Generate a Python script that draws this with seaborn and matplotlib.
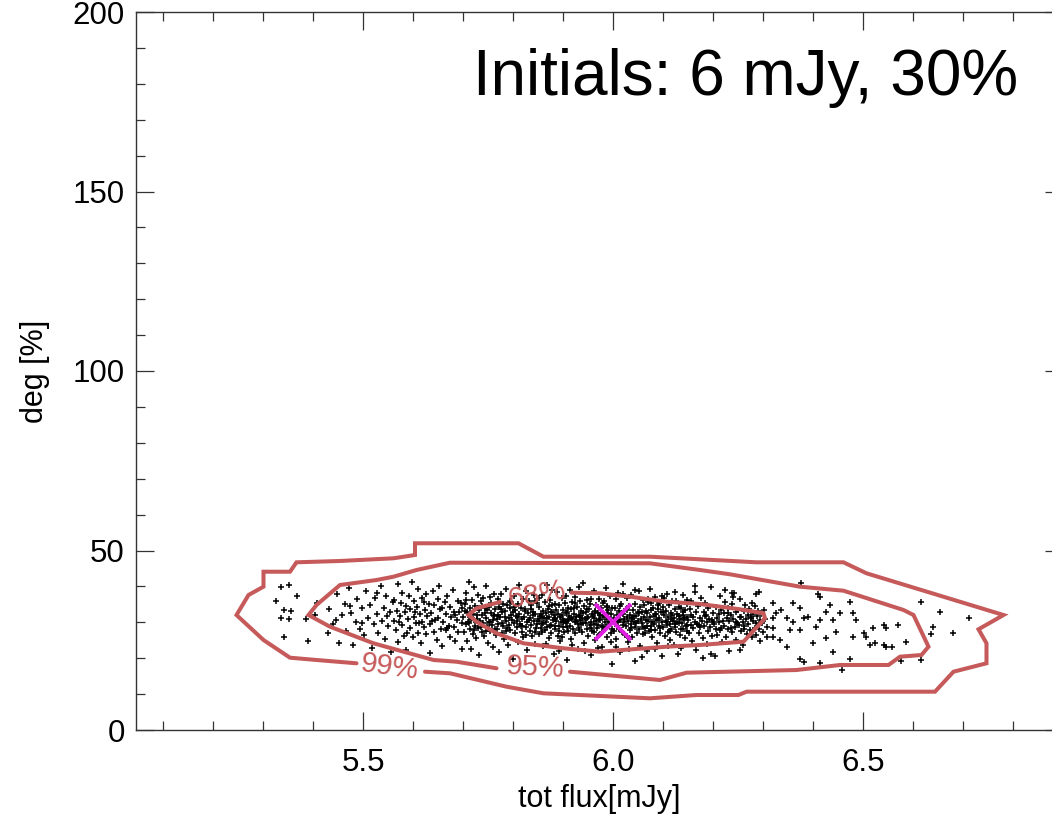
import matplotlib
matplotlib.use("Agg")
import matplotlib.pyplot as plt
import seaborn as sns
from matplotlib.ticker import MultipleLocator

# ---------------- data ----------------
pts_far_left = [(5.337,39.9),(5.353,40.4),(5.369,37.3),(5.325,36.0),(5.341,33.4),(5.356,33.2),(5.335,31.1),
    (5.351,30.8),(5.341,25.8),(5.389,24.8),(5.387,30.8),(5.409,35.5),(5.429,26.9),(5.404,32.0)]

pts_left = [(5.432,33.6),(5.441,29.4),(5.447,37.8),(5.452,24.3),(5.458,31.9),(5.463,35.2),(5.466,27.5),(5.471,39.6),
    (5.476,32.7),(5.481,23.6),(5.485,30.1),(5.489,36.4),(5.493,28.2),(5.497,33.9),(5.502,26.4),(5.506,38.7),(5.509,31.2),
    (5.513,34.8),(5.517,22.9),(5.521,29.6),(5.524,36.9),(5.528,32.4),(5.531,27.1),(5.535,40.2),(5.538,30.5),(5.541,34.1),
    (5.544,25.3),(5.547,37.4),(5.550,28.9),(5.553,32.9),(5.556,21.8),(5.559,35.7),(5.445,30.6),(5.474,34.5),(5.499,29.9),
    (5.527,38.2),(5.548,31.7)]

pts_mid_left = [(5.561,30.4),(5.563,36.2),(5.565,27.8),(5.567,33.1),(5.569,40.8),(5.571,24.6),(5.573,31.7),(5.575,35.4),
    (5.577,29.2),(5.579,38.1),(5.581,26.3),(5.583,32.8),(5.585,34.6),(5.587,22.4),(5.589,30.9),(5.591,37.2),(5.593,28.5),
    (5.595,33.7),(5.597,41.3),(5.599,25.8),(5.601,31.4),(5.603,35.9),(5.605,29.7),(5.607,34.2),(5.609,27.1),(5.611,39.4),
    (5.613,32.2),(5.615,24.1),(5.617,30.2),(5.619,36.7),(5.621,28.8),(5.623,33.4),(5.625,37.9),(5.627,26.7),(5.629,31.8),
    (5.631,35.1),(5.633,21.5),(5.635,29.4),(5.637,32.6),(5.639,38.6),(5.641,27.4),(5.643,34.9),(5.645,30.7),(5.647,25.2),
    (5.649,36.4),(5.651,31.1),(5.653,40.1),(5.655,28.1),(5.657,33.9),(5.659,23.4),(5.661,30.0),(5.663,35.6),(5.665,27.9),
    (5.667,32.4),(5.669,37.3),(5.671,29.1),(5.673,34.4),(5.675,26.0),(5.677,31.5),(5.679,39.0),(5.681,28.6),(5.683,33.0),
    (5.685,24.8),(5.687,30.6),(5.689,36.0),(5.691,27.3),(5.693,32.9),(5.695,35.3),(5.697,29.8),(5.699,22.7),(5.572,30.1),
    (5.588,27.0),(5.604,32.9),(5.622,35.7),(5.638,30.3),(5.654,33.6),(5.668,28.3),(5.684,31.9),(5.698,34.0),(5.612,29.9)]

pts_core_left = [(5.701,31.6),(5.702,27.2),(5.704,35.1),(5.705,29.4),(5.706,38.3),(5.708,24.9),(5.709,32.8),(5.710,30.2),
    (5.712,41.1),(5.713,28.0),(5.714,33.9),(5.716,22.6),(5.717,31.0),(5.718,36.2),(5.720,26.8),(5.721,30.7),(5.722,39.7),
    (5.724,29.0),(5.725,34.5),(5.726,25.7),(5.728,32.1),(5.729,37.6),(5.730,28.5),(5.732,33.3),(5.733,20.9),(5.734,30.5),
    (5.736,35.8),(5.737,27.4),(5.738,31.9),(5.740,36.9),(5.741,29.7),(5.742,26.2),(5.744,34.0),(5.745,31.3),(5.746,40.2),
    (5.748,28.9),(5.749,33.5),(5.750,24.3),(5.752,30.0),(5.753,37.1),(5.754,27.7),(5.756,32.5),(5.757,35.4),(5.758,29.3),
    (5.760,23.2),(5.761,31.7),(5.762,38.0),(5.764,28.2),(5.765,33.8),(5.766,26.5),(5.768,30.8),(5.769,36.6),(5.770,29.6),
    (5.772,34.3),(5.773,21.7),(5.774,31.4),(5.776,37.8),(5.777,27.0),(5.778,32.9),(5.780,35.0),(5.781,29.1),(5.782,25.4),
    (5.784,33.2),(5.785,30.3),(5.786,39.2),(5.788,28.4),(5.789,34.7),(5.790,23.8),(5.792,31.1),(5.793,36.0),(5.794,27.9),
    (5.796,32.0),(5.797,35.6),(5.798,30.6),(5.800,19.8),(5.801,29.8),(5.802,37.3),(5.804,26.9),(5.805,33.4),(5.806,31.8),
    (5.808,28.6),(5.809,35.2),(5.810,24.6),(5.812,32.3),(5.813,40.5),(5.814,29.5),(5.816,34.1),(5.817,27.3),(5.818,30.9),
    (5.820,36.4),(5.821,25.9),(5.822,31.5),(5.824,33.7),(5.825,28.8),(5.826,38.6),(5.828,30.1),(5.829,22.4),(5.830,32.6),
    (5.832,35.9),(5.833,27.6),(5.834,31.2),(5.836,34.9),(5.837,29.2),(5.838,26.1),(5.840,33.0),(5.841,37.5),(5.842,30.4),
    (5.844,24.0),(5.845,32.2),(5.846,28.3),(5.848,35.5),(5.849,31.0),(5.703,33.2),(5.711,29.8),(5.719,32.4),(5.727,30.9),
    (5.735,28.7),(5.743,32.6),(5.751,34.2),(5.759,30.6),(5.767,28.1),(5.775,33.6),(5.783,31.5),(5.791,29.3),(5.799,32.8),
    (5.807,30.3),(5.815,28.9),(5.823,33.1),(5.831,30.7),(5.839,31.9),(5.847,29.6),(5.707,36.1),(5.723,27.8),(5.739,34.6),
    (5.755,30.0),(5.771,32.1),(5.787,27.5),(5.803,34.4),(5.819,29.0),(5.835,33.8),(5.843,27.2),(5.715,31.4),(5.731,34.0),
    (5.747,27.6),(5.763,31.9),(5.779,29.9),(5.795,33.9),(5.811,31.6),(5.827,26.6),(5.843,35.8)]

pts_core_mid = [(5.851,30.3),(5.852,26.7),(5.853,34.2),(5.854,31.8),(5.856,28.4),(5.857,37.7),(5.858,29.6),(5.859,33.1),
    (5.860,23.5),(5.862,31.2),(5.863,35.6),(5.864,27.9),(5.865,32.5),(5.866,30.0),(5.868,40.3),(5.869,28.8),(5.870,33.8),
    (5.871,25.6),(5.872,31.6),(5.874,36.3),(5.875,29.3),(5.876,32.9),(5.877,27.1),(5.878,34.7),(5.880,30.7),(5.881,21.3),
    (5.882,31.9),(5.883,35.1),(5.884,28.2),(5.886,33.4),(5.887,30.5),(5.888,38.4),(5.889,26.3),(5.890,32.2),(5.892,29.0),
    (5.893,34.9),(5.894,31.4),(5.895,24.7),(5.896,30.1),(5.898,36.8),(5.899,28.6),(5.900,33.3),(5.901,31.0),(5.902,27.4),
    (5.904,35.3),(5.905,29.8),(5.906,32.7),(5.907,19.6),(5.908,30.4),(5.910,34.0),(5.911,27.7),(5.912,31.7),(5.913,39.1),
    (5.914,29.1),(5.916,33.6),(5.917,25.3),(5.918,30.9),(5.919,35.7),(5.920,28.0),(5.922,32.3),(5.923,30.2),(5.924,37.0),
    (5.925,26.9),(5.926,31.5),(5.928,34.4),(5.929,29.5),(5.930,22.6),(5.931,32.0),(5.932,28.5),(5.934,35.9),(5.935,30.6),
    (5.936,33.2),(5.937,27.2),(5.938,31.3),(5.940,41.0),(5.941,29.7),(5.942,34.6),(5.943,24.2),(5.944,30.8),(5.946,32.8),
    (5.947,28.1),(5.948,36.1),(5.949,31.1),(5.950,26.1),(5.952,33.7),(5.953,29.2),(5.954,35.0),(5.955,30.0),(5.956,20.8),
    (5.958,32.4),(5.959,27.6),(5.960,31.8),(5.961,38.7),(5.962,29.4),(5.964,33.0),(5.965,25.0),(5.966,30.3),(5.967,34.8),
    (5.968,28.3),(5.970,32.6),(5.971,31.0),(5.972,36.5),(5.973,26.5),(5.974,30.7),(5.976,33.9),(5.977,29.0),(5.978,23.0),
    (5.979,31.6),(5.980,35.4),(5.982,27.8),(5.983,32.1),(5.984,30.2),(5.985,39.6),(5.986,28.7),(5.988,34.3),(5.989,25.8),
    (5.990,31.4),(5.991,33.5),(5.992,29.6),(5.994,37.2),(5.995,27.0),(5.996,32.2),(5.997,30.5),(5.998,18.4),(5.999,34.1),
    (5.855,32.4),(5.861,29.7),(5.867,31.3),(5.873,28.9),(5.879,33.0),(5.885,30.8),(5.891,27.5),(5.897,32.0),(5.903,30.3),
    (5.909,28.6),(5.915,31.2),(5.921,33.9),(5.927,30.4),(5.933,27.9),(5.939,32.5),(5.945,29.9),(5.951,31.5),(5.957,28.4),
    (5.963,33.2),(5.969,29.3),(5.975,31.9),(5.981,28.8),(5.987,32.7),(5.993,30.1),(5.999,28.2),(5.853,36.9),(5.866,23.9),
    (5.879,38.9),(5.892,21.9),(5.905,37.4),(5.918,23.6),(5.931,39.8),(5.944,22.1),(5.957,36.6),(5.970,22.9),(5.983,36.0),
    (5.996,24.4),(5.858,27.3),(5.871,34.5),(5.884,31.1),(5.897,26.0),(5.910,30.6),(5.923,35.3),(5.936,29.4),(5.949,33.6),
    (5.962,31.2),(5.975,26.8),(5.988,30.9),(5.857,31.5),(5.883,29.1),(5.909,32.9),(5.935,31.7),(5.961,27.3),(5.987,34.6),
    (5.899,30.2)]

pts_core_right = [(6.001,31.3),(6.002,27.6),(6.003,34.0),(6.004,29.6),(6.006,36.4),(6.007,25.4),(6.008,31.9),(6.009,30.1),
    (6.010,38.2),(6.012,28.3),(6.013,33.1),(6.014,21.8),(6.015,30.6),(6.016,35.2),(6.018,27.3),(6.019,32.4),(6.020,29.2),
    (6.021,40.7),(6.022,30.8),(6.024,26.4),(6.025,33.7),(6.026,28.9),(6.027,31.5),(6.028,36.9),(6.030,24.5),(6.031,30.3),
    (6.032,34.6),(6.033,27.9),(6.034,32.0),(6.036,29.4),(6.037,37.5),(6.038,31.1),(6.039,26.0),(6.040,33.4),(6.042,30.0),
    (6.043,19.2),(6.044,28.7),(6.045,35.0),(6.046,31.7),(6.048,27.1),(6.049,32.8),(6.050,30.4),(6.051,38.8),(6.052,28.0),
    (6.054,34.3),(6.055,23.3),(6.056,31.0),(6.057,33.0),(6.058,29.8),(6.060,36.2),(6.061,26.7),(6.062,31.6),(6.063,34.8),
    (6.064,28.4),(6.066,30.7),(6.067,22.0),(6.068,32.5),(6.069,29.0),(6.070,35.6),(6.072,27.5),(6.073,31.4),(6.074,39.4),
    (6.075,28.9),(6.076,33.5),(6.078,25.9),(6.079,30.2),(6.080,34.1),(6.081,29.5),(6.082,31.8),(6.084,37.1),(6.085,27.8),
    (6.086,32.2),(6.087,30.6),(6.088,24.1),(6.090,33.8),(6.091,29.1),(6.092,35.4),(6.093,31.2),(6.094,27.0),(6.096,32.9),
    (6.097,20.5),(6.098,30.0),(6.099,34.4),(6.100,28.6),(6.102,31.9),(6.103,36.7),(6.104,26.2),(6.105,30.5),(6.106,33.2),
    (6.108,29.3),(6.109,38.0),(6.110,27.4),(6.111,31.5),(6.112,34.9),(6.114,25.2),(6.115,30.9),(6.116,32.6),(6.117,28.1),
    (6.118,35.8),(6.120,30.4),(6.121,23.8),(6.122,31.3),(6.123,33.6),(6.124,28.8),(6.126,36.0),(6.127,27.2),(6.128,30.1),
    (6.129,32.3),(6.130,21.1),(6.132,29.7),(6.133,34.2),(6.134,31.0),(6.135,26.6),(6.136,33.9),(6.138,29.9),(6.139,37.7),
    (6.140,28.2),(6.141,32.1),(6.142,30.8),(6.144,25.5),(6.145,33.3),(6.146,29.0),(6.147,35.1),(6.148,31.6),(6.149,27.7),
    (6.005,30.5),(6.011,28.1),(6.017,32.7),(6.023,30.0),(6.029,33.3),(6.035,28.5),(6.041,31.8),(6.047,29.9),(6.053,32.6),
    (6.059,28.8),(6.065,33.1),(6.071,30.3),(6.077,27.9),(6.083,32.4),(6.089,30.7),(6.095,28.4),(6.101,32.8),(6.107,30.2),
    (6.113,27.6),(6.119,32.0),(6.125,29.5),(6.131,31.7),(6.137,28.0),(6.143,31.3),(6.149,29.2),(6.006,23.1),(6.019,37.8),
    (6.032,22.7),(6.045,39.0),(6.058,20.3),(6.071,36.5),(6.084,22.5),(6.097,37.4),(6.110,23.5),(6.123,38.4),(6.136,22.8),
    (6.149,36.3),(6.014,34.5),(6.039,30.9),(6.064,26.9),(6.089,34.7),(6.114,29.6),(6.139,33.0),(6.027,26.1),(6.077,35.5)]

pts_right = [(6.151,30.6),(6.152,26.9),(6.154,33.7),(6.155,29.2),(6.157,36.0),(6.158,24.8),(6.160,31.5),(6.161,28.3),
    (6.163,38.5),(6.164,30.0),(6.166,32.9),(6.167,22.3),(6.169,29.6),(6.170,34.5),(6.172,27.0),(6.173,31.2),(6.175,28.6),
    (6.176,36.8),(6.178,30.4),(6.179,25.7),(6.181,33.0),(6.182,29.1),(6.184,31.8),(6.185,35.3),(6.187,23.9),(6.188,30.2),
    (6.190,33.9),(6.191,27.6),(6.193,31.0),(6.194,28.8),(6.196,39.7),(6.197,30.7),(6.199,26.3),(6.200,32.5),(6.202,29.4),
    (6.203,20.6),(6.205,28.0),(6.206,34.2),(6.208,31.3),(6.209,26.6),(6.211,32.2),(6.212,30.0),(6.214,37.2),(6.215,27.8),
    (6.217,33.4),(6.218,24.4),(6.220,30.5),(6.221,32.7),(6.223,29.0),(6.224,35.7),(6.226,26.0),(6.227,31.1),(6.229,34.0),
    (6.230,28.2),(6.232,30.3),(6.233,21.9),(6.235,31.9),(6.236,28.5),(6.238,35.0),(6.239,27.3),(6.241,30.8),(6.242,38.1),
    (6.244,28.7),(6.245,32.8),(6.247,25.1),(6.248,29.8),(6.250,33.5),(6.251,29.3),(6.253,31.4),(6.254,36.4),(6.256,27.5),
    (6.257,31.6),(6.259,30.1),(6.260,23.7),(6.262,33.2),(6.263,28.9),(6.265,34.8),(6.266,30.9),(6.268,26.8),(6.269,32.0),
    (6.271,29.5),(6.272,33.8),(6.274,27.9),(6.275,31.2),(6.277,35.5),(6.278,25.9),(6.280,30.4),(6.281,32.4),(6.283,28.4),
    (6.284,34.6),(6.286,29.9),(6.287,26.5),(6.289,31.7),(6.290,33.1),(6.292,28.1),(6.293,30.6),(6.295,24.9),(6.296,32.3),
    (6.298,29.7),(6.299,27.2),(6.156,31.9),(6.171,29.3),(6.186,32.1),(6.201,30.1),(6.216,28.4),(6.231,32.6),(6.246,30.2),
    (6.261,28.0),(6.276,31.5),(6.291,29.6),(6.305,31.0),(6.308,28.6),(6.302,33.4),(6.165,40.1),(6.195,21.2),(6.225,39.0),
    (6.255,22.4),(6.285,37.9),(6.180,20.0),(6.240,37.0)]

pts_far_right = [(6.321,35.3),(6.337,33.4),(6.347,31.1),(6.361,35.3),(6.374,33.9),(6.381,31.1),(6.391,31.4),(6.374,27.8),
    (6.407,28.8),(6.414,37.1),(6.427,32.9),(6.441,30.6),(6.454,32.5),(6.474,35.7),(6.481,32.5),(6.487,30.6),(6.481,26.0),
    (6.501,26.9),(6.507,25.8),(6.521,28.3),(6.541,29.2),(6.541,23.7),(6.557,23.0),(6.571,29.2),(6.587,24.6),(6.617,35.7),
    (6.641,28.8),(6.637,26.7),(6.654,32.9),(6.681,26.9),(6.711,31.1),(6.617,19.5),(6.577,19.3),(6.459,16.7),(6.474,19.9),
    (6.374,19.7),(6.382,18.9),(6.414,18.6),(6.441,21.8),(6.401,24.1),(6.347,23.0),(6.334,25.1),(6.321,26.0),(6.307,25.8),
    (6.377,41.0),(6.291,38.5),(6.237,38.3),(6.411,37.8),(6.434,34.8),(6.514,23.7),(6.524,24.1),(6.547,23.2),(6.547,28.3),
    (6.361,30.2),(6.321,31.1),(6.327,32.5),(6.354,27.8),(6.321,28.3),(6.427,25.5),(6.447,27.4),(6.414,30.6)]

# contour polylines (x = tot flux, y = deg); each is open at its label gap
c99_x = [5.624, 5.674, 5.787, 5.861, 6.074, 6.167, 6.251, 6.267, 6.644, 6.681, 6.747, 6.747, 6.731, 6.781,
         6.507, 6.461, 6.287, 6.174, 6.074, 5.861, 5.811, 5.604, 5.604, 5.561, 5.454, 5.367, 5.354, 5.301,
         5.301, 5.271, 5.247, 5.301, 5.354, 5.407, 5.487]
c99_y = [16.24, 15.79, 12.06, 10.22, 8.83, 9.75, 9.75, 10.67, 10.67, 16.24, 18.58, 24.15, 28.05, 32.03,
         43.65, 46.71, 46.71, 47.55, 48.27, 48.27, 52.01, 52.01, 48.75, 47.83, 47.08, 46.71, 44.09, 44.09,
         39.92, 37.60, 32.03, 25.07, 20.14, 19.50, 18.58]

c95_x = [5.914, 6.094, 6.147, 6.367, 6.454, 6.551, 6.574, 6.617, 6.631, 6.601, 6.581, 6.461, 6.374, 6.234,
         6.174, 6.074, 5.674, 5.607, 5.561, 5.527, 5.454, 5.407, 5.391, 5.434, 5.521, 5.641, 5.687, 5.767]
c95_y = [16.24, 13.93, 15.96, 16.71, 18.11, 18.11, 20.42, 20.89, 23.20, 32.03, 33.43, 38.80, 39.92, 43.37,
         44.57, 46.43, 46.60, 44.57, 42.70, 41.78, 40.39, 34.82, 32.03, 28.77, 24.15, 19.50, 19.02, 17.19]

c68_x = [5.917, 5.974, 6.034, 6.107, 6.174, 6.254, 6.301, 6.304, 6.261, 6.174, 6.107, 5.974, 5.901, 5.821,
         5.767, 5.727, 5.711, 5.727, 5.774]
c68_y = [38.25, 38.08, 37.13, 35.74, 35.10, 33.62, 32.51, 31.11, 24.60, 23.68, 23.20, 21.81, 22.76, 24.15,
         26.93, 30.17, 32.03, 33.90, 35.65]

contour_labels = ["68%", "95%", "99%"]
label_x = [5.847, 5.844, 5.554]
label_y = [37.6, 17.3, 17.6]
label_rot = [10, -3, -8]

initial_flux = [6.0]
initial_deg = [30.0]

xticks = [5.5, 6.0, 6.5]
yticks = [0, 50, 100, 150, 200]

# ---------------- plot ----------------
sns.set_style("white")
plt.rcParams["font.family"] = ["Liberation Sans", "DejaVu Sans"]
plt.rcParams["text.color"] = "black"
plt.rcParams["axes.labelcolor"] = "black"
plt.rcParams["xtick.color"] = "black"
plt.rcParams["ytick.color"] = "black"

fig = plt.figure(figsize=(10.52, 8.17), dpi=100)
ax = fig.add_axes([136/1052, 87/817, 927/1052, 718/817])

all_pts = (pts_far_left + pts_left + pts_mid_left + pts_core_left + pts_core_mid
           + pts_core_right + pts_right + pts_far_right)
flux = [p[0] for p in all_pts]
deg = [p[1] for p in all_pts]

sns.scatterplot(x=flux, y=deg, ax=ax, marker="+", color="black", s=22, linewidth=1.1, zorder=2)

red = "#c65a5a"
for cx, cy in [(c99_x, c99_y), (c95_x, c95_y), (c68_x, c68_y)]:
    ax.plot(cx, cy, color=red, lw=2.9, solid_joinstyle="miter", zorder=3)

for t, lx, ly, r in zip(contour_labels, label_x, label_y, label_rot):
    ax.text(lx, ly, t, color=red, fontsize=21, rotation=r, ha="center", va="center",
            rotation_mode="anchor", zorder=4)

ax.plot(initial_flux, initial_deg, marker="x", color="#e020e0", markersize=26, mew=2.8,
        linestyle="none", zorder=5)

ax.text(5.72, 177, "Initials: 6 mJy, 30%", fontsize=46, ha="left", va="baseline", color="black")

ax.set_xlim(5.046, 6.9)
ax.set_ylim(0, 200)
ax.set_xticks(xticks)
ax.set_xticklabels([f"{v:.1f}" for v in xticks])
ax.set_yticks(yticks)
ax.xaxis.set_minor_locator(MultipleLocator(0.1))
ax.yaxis.set_minor_locator(MultipleLocator(10))
ax.tick_params(which="both", direction="in", bottom=True, left=True, top=True, right=True,
               width=0.9, color="#333333", labelcolor="black")
ax.tick_params(which="major", length=13, labelsize=22.5)
ax.tick_params(axis="x", which="major", pad=13)
ax.tick_params(axis="y", which="major", pad=8)
ax.tick_params(which="minor", length=6.5)
for s in ax.spines.values():
    s.set_linewidth(1.0)
    s.set_color("#333333")

ax.set_xlabel("tot flux[mJy]", fontsize=22, labelpad=4, color="black")
ax.set_ylabel("deg [%]", fontsize=22, labelpad=16, color="black")

fig.savefig("out.png", dpi=100, facecolor="white")
